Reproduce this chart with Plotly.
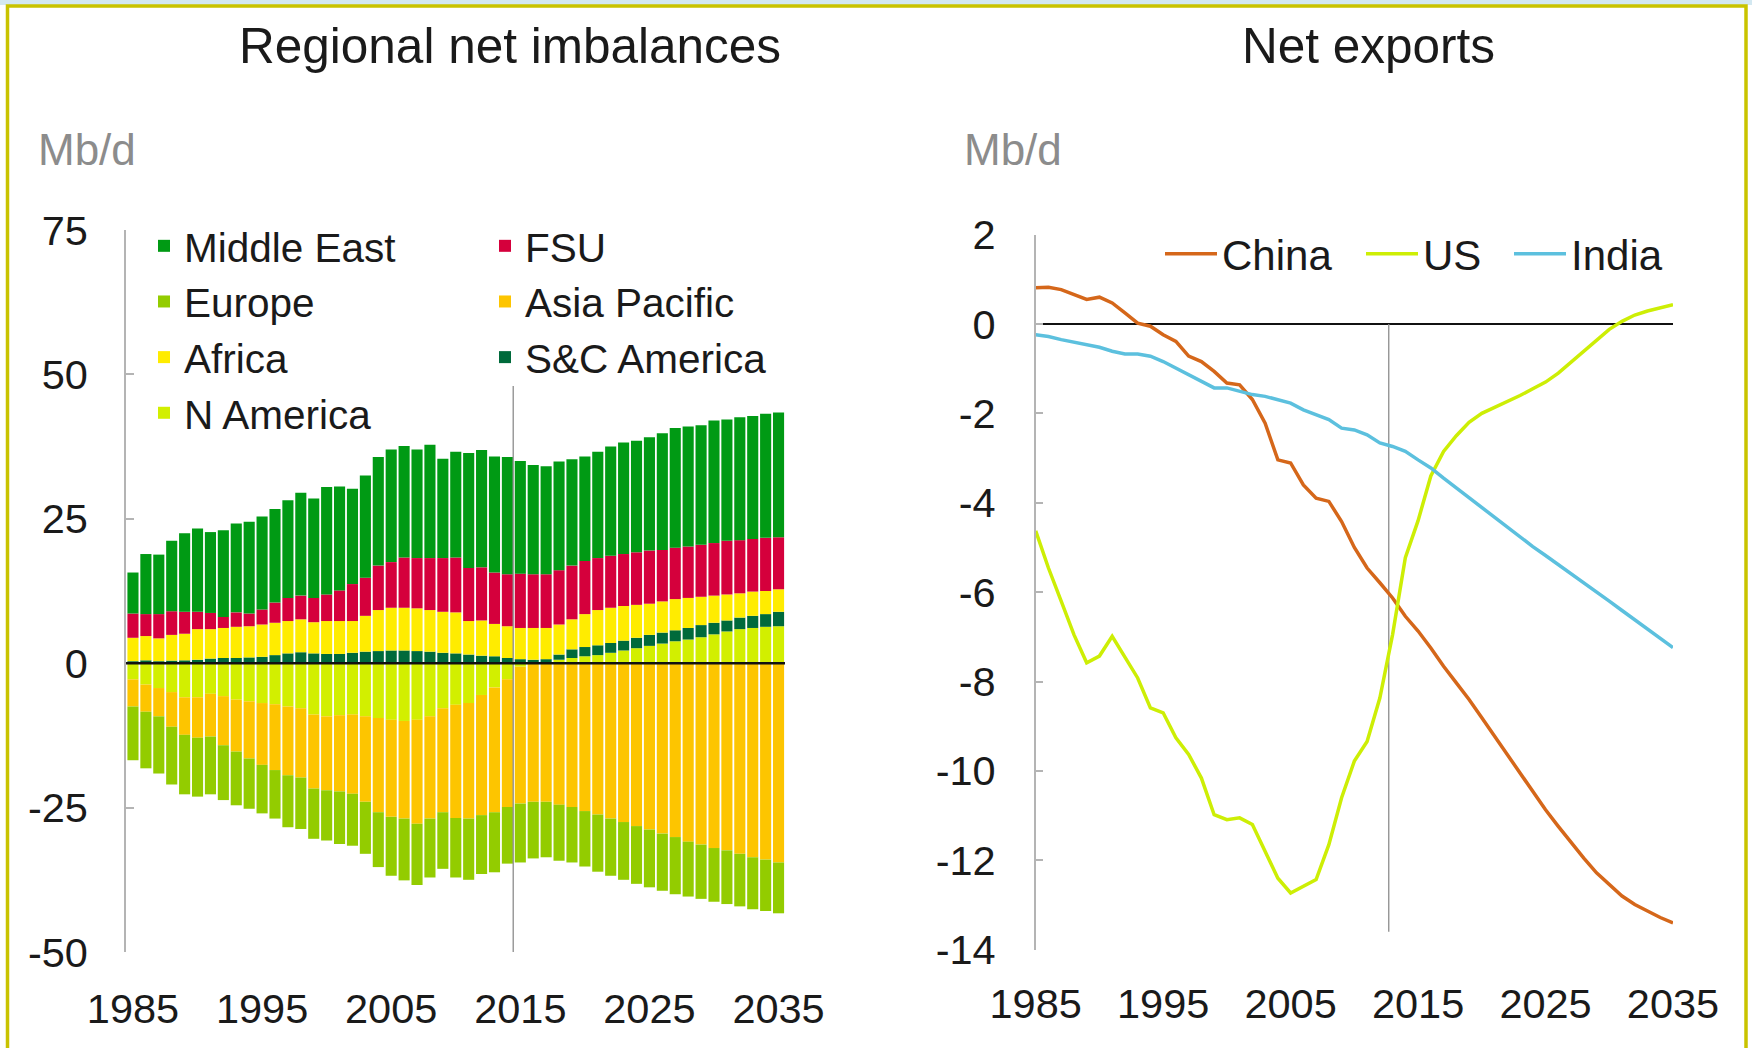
import plotly.graph_objects as go

# ---------------- Data ----------------
years = list(range(1985, 2036))

middle_east = [7.1, 10.4, 10.3, 12.2, 13.6, 14.4, 14.0, 15.0, 15.4, 15.9,
               16.1, 16.2, 16.9, 17.8, 17.2, 18.6, 18.0, 16.5, 17.7, 18.8,
               19.5, 19.3, 18.8, 19.6, 17.2, 18.3, 19.9, 20.3, 20.1, 20.3,
               19.5, 18.9, 18.7, 18.8, 18.4, 18.1, 18.4, 18.9, 19.3, 19.3,
               19.6, 20.2, 20.7, 20.8, 20.7, 21.2, 21.0, 21.3, 21.3, 21.5, 21.6]
fsu = [4.2, 3.8, 4.2, 4.1, 3.8, 3.0, 2.8, 1.9, 2.5, 2.2,
       2.6, 3.5, 4.0, 4.1, 4.2, 4.6, 5.3, 6.4, 6.6, 7.7,
       7.9, 8.7, 8.7, 9.0, 9.3, 9.5, 9.2, 9.2, 8.9, 9.0,
       9.4, 9.3, 9.3, 9.4, 9.3, 9.2, 9.0, 9.0, 9.0, 9.1,
       9.2, 8.9, 8.9, 8.9, 9.0, 9.1, 9.3, 9.2, 9.1, 9.2, 9.0]
africa = [4.05, 4.2, 3.95, 4.45, 4.6, 5.3, 5.1, 5.2, 5.4, 5.4,
          5.6, 5.6, 5.6, 5.7, 5.4, 5.7, 5.7, 5.5, 6.2, 7.1,
          7.4, 7.4, 7.4, 7.2, 7.1, 7.1, 5.8, 6.1, 5.6, 5.5,
          5.4, 5.5, 5.4, 5.2, 5.2, 5.7, 6.1, 6.1, 6.0, 5.7,
          5.4, 5.4, 5.4, 5.2, 4.9, 4.7, 4.5, 4.2, 4.2, 4.0, 3.9]
sc_america = [0.35, 0.5, 0.35, 0.45, 0.5, 0.6, 0.8, 0.9, 0.9, 1.0,
              1.1, 1.4, 1.7, 1.9, 1.7, 1.6, 1.6, 1.8, 2.0, 2.1,
              2.2, 2.2, 2.1, 2.0, 1.8, 1.7, 1.5, 1.3, 1.2, 0.9,
              0.7, 0.6, 0.5, 0.9, 1.5, 1.6, 1.7, 1.7, 1.7, 1.8,
              1.9, 1.9, 1.9, 2.0, 2.1, 2.0, 1.9, 2.0, 2.1, 2.2, 2.5]
n_america = [-2.8, -3.7, -4.3, -5.0, -5.9, -5.9, -5.3, -5.7, -6.3, -6.6,
             -6.9, -7.1, -7.5, -7.8, -8.9, -9.2, -9.0, -8.9, -9.2, -9.5,
             -9.8, -10.0, -9.8, -9.2, -7.8, -7.2, -6.9, -5.5, -4.2, -2.8,
             -0.6, -0.1, 0.2, 0.6, 0.9, 1.2, 1.4, 1.8, 2.2, 2.6,
             3.0, 3.4, 3.8, 4.1, 4.5, 5.0, 5.5, 5.9, 6.1, 6.3, 6.4]
asia_pacific = [-4.7, -4.7, -4.9, -6.0, -6.5, -7.0, -7.4, -8.5, -9.0, -9.9,
                -10.7, -11.4, -11.9, -12.0, -12.8, -12.8, -13.2, -13.7, -14.8, -16.3,
                -16.8, -16.9, -18.0, -17.7, -18.0, -19.6, -20.0, -20.8, -21.6, -22.1,
                -23.7, -23.9, -24.0, -24.5, -24.9, -25.6, -26.2, -26.9, -27.5, -28.2,
                -28.8, -29.5, -30.1, -30.9, -31.4, -32.0, -32.4, -33.0, -33.6, -34.0, -34.5]
europe = [-9.3, -9.8, -9.9, -10.0, -10.3, -10.2, -10.0, -9.5, -9.3, -8.7,
          -8.4, -8.4, -9.0, -8.9, -8.7, -8.7, -9.1, -9.0, -9.0, -9.5,
          -10.2, -10.7, -10.6, -10.2, -9.8, -10.3, -10.6, -10.2, -10.4, -9.8,
          -10.2, -9.8, -9.6, -9.7, -9.6, -9.6, -9.9, -9.9, -10.0, -10.0,
          -10.0, -9.9, -9.9, -9.5, -9.4, -9.3, -9.3, -9.1, -9.0, -8.9, -8.8]

china = [0.81, 0.82, 0.77, 0.66, 0.55, 0.6, 0.47, 0.25, 0.02, -0.05,
         -0.24, -0.39, -0.72, -0.84, -1.06, -1.32, -1.36, -1.69, -2.22, -3.04,
         -3.11, -3.6, -3.9, -3.97, -4.42, -5.0, -5.46, -5.79, -6.13, -6.54,
         -6.87, -7.25, -7.66, -8.03, -8.4, -8.81, -9.22, -9.63, -10.04, -10.46,
         -10.87, -11.24, -11.61, -11.95, -12.28, -12.54, -12.8, -12.99, -13.14, -13.28, -13.4]
us = [-4.63, -5.46, -6.2, -6.95, -7.58, -7.43, -6.99, -7.47, -7.92, -8.59,
      -8.7, -9.26, -9.63, -10.16, -10.98, -11.09, -11.05, -11.2, -11.8, -12.4,
      -12.73, -12.58, -12.43, -11.65, -10.6, -9.78, -9.34, -8.37, -6.95, -5.23,
      -4.4, -3.4, -2.85, -2.5, -2.2, -2.0, -1.87, -1.75, -1.6, -1.45,
      -1.3, -1.1, -0.85, -0.6, -0.36, -0.12, 0.06, 0.2, 0.29, 0.36, 0.43]
india = [-0.24, -0.28, -0.35, -0.4, -0.46, -0.52, -0.61, -0.67, -0.67, -0.72,
         -0.84, -0.99, -1.13, -1.28, -1.43, -1.43, -1.51, -1.58, -1.62, -1.69,
         -1.77, -1.92, -2.03, -2.14, -2.33, -2.37, -2.48, -2.66, -2.74, -2.85,
         -3.04, -3.22, -3.45, -3.67, -3.9, -4.12, -4.34, -4.56, -4.77, -4.98,
         -5.18, -5.38, -5.6, -5.8, -6.0, -6.2, -6.41, -6.62, -6.83, -7.03, -7.24]

left_yticks = [75, 50, 25, 0, -25, -50]
left_yticktext = ["75", "50", "25", "0", "-25", "-50"]
right_yticks = [2, 0, -2, -4, -6, -8, -10, -12, -14]
right_yticktext = ["2", "0", "-2", "-4", "-6", "-8", "-10", "-12", "-14"]
xticks = [1985, 1995, 2005, 2015, 2025, 2035]
xticktext = ["1985", "1995", "2005", "2015", "2025", "2035"]

# ---------------- Style ----------------
W, H = 1752, 1048
FONT = "Liberation Sans, Arial, Helvetica, sans-serif"
TXT = "#1a1a1a"
AXIS = "#b4b4b4"

def px(x):
    return x / W

def py(y):
    return 1 - y / H

fig = go.Figure()

# stacking order (from zero outward): N America, S&C America, Africa, FSU, Middle East, Asia Pacific, Europe
bar_series = [
    ("N America", n_america, "#d2ef00", "legend", 4),
    ("S&C America", sc_america, "#006a3b", "legend2", 3),
    ("Africa", africa, "#ffec00", "legend", 3),
    ("FSU", fsu, "#d5003c", "legend2", 1),
    ("Middle East", middle_east, "#009a14", "legend", 1),
    ("Asia Pacific", asia_pacific, "#fdc500", "legend2", 2),
    ("Europe", europe, "#93cc00", "legend", 2),
]
for name, vals, col, leg, rank in bar_series:
    fig.add_trace(go.Bar(x=years, y=vals, name=name, marker=dict(color=col, line=dict(width=0)),
                         legend=leg, legendrank=rank, xaxis="x", yaxis="y"))

line_series = [
    ("China", china, "#d5671a", "legend3"),
    ("US", us, "#cdee05", "legend4"),
    ("India", india, "#5cc0de", "legend5"),
]
for name, vals, col, leg in line_series:
    fig.add_trace(go.Scatter(x=years, y=vals, name=name, mode="lines",
                             line=dict(color=col, width=3.5), legend=leg,
                             xaxis="x2", yaxis="y2"))

tickfont = dict(family=FONT, size=41.5, color=TXT)
legfont = dict(family=FONT, size=40.5, color=TXT)
linelegfont = dict(family=FONT, size=42, color=TXT)

def line_legend(x_left):
    return dict(x=px(x_left), y=py(254), xanchor="left", yanchor="middle", font=linelegfont,
                orientation="h", bgcolor="rgba(0,0,0,0)", itemwidth=52)

fig.update_layout(
    width=W, height=H,
    margin=dict(l=0, r=0, t=0, b=0, autoexpand=False),
    paper_bgcolor="white", plot_bgcolor="white",
    barmode="relative", bargap=0.14,
    showlegend=True,
    xaxis=dict(domain=[px(126), px(785)], range=[1984.46, 2035.5],
               tickvals=xticks, ticktext=xticktext, tickfont=tickfont,
               showgrid=False, zeroline=False, showline=False, ticks="",
               ticklabelstandoff=28, automargin=False),
    yaxis=dict(domain=[py(952), py(230)], range=[-50, 75],
               tickvals=left_yticks, ticktext=left_yticktext, tickfont=tickfont,
               showgrid=False, zeroline=False, showline=True, linecolor=AXIS, linewidth=1.5,
               ticks="inside", ticklen=8, tickcolor=AXIS, tickwidth=1.5,
               ticklabelstandoff=28, automargin=False),
    xaxis2=dict(domain=[px(1035.7), px(1673)], range=[1985, 2035], anchor="y2",
                tickvals=xticks, ticktext=xticktext, tickfont=tickfont,
                showgrid=False, zeroline=False, showline=False, ticks="",
                ticklabelstandoff=26, automargin=False),
    yaxis2=dict(domain=[py(949.7), py(234.6)], range=[-14, 2], anchor="x2",
                tickvals=right_yticks, ticktext=right_yticktext, tickfont=tickfont,
                showgrid=False, zeroline=False, showline=True, linecolor=AXIS, linewidth=1.5,
                ticks="inside", ticklen=8, tickcolor=AXIS, tickwidth=1.5,
                ticklabelstandoff=30, automargin=False),
    legend=dict(x=px(144), y=py(213), xanchor="left", yanchor="top", font=legfont,
                traceorder="normal", bgcolor="rgba(0,0,0,0)", tracegroupgap=0),
    legend2=dict(x=px(485), y=py(213), xanchor="left", yanchor="top", font=legfont,
                 traceorder="normal", bgcolor="rgba(0,0,0,0)", tracegroupgap=0),
    legend3=line_legend(1160),
    legend4=line_legend(1361),
    legend5=line_legend(1509),
)

shapes = [
    # frame
    dict(type="rect", xref="paper", yref="paper", x0=0, x1=1, y0=py(5), y1=1,
         fillcolor="#d3e8f1", line=dict(width=0), layer="below"),
    dict(type="rect", xref="paper", yref="paper", x0=px(7.5), x1=px(1746), y0=py(1060), y1=py(6),
         line=dict(color="#c9c300", width=3.5), fillcolor="rgba(0,0,0,0)", layer="above"),
    # left chart
    dict(type="line", xref="x", yref="y", x0=2014.45, x1=2014.45, y0=-50.5, y1=48,
         line=dict(color="#8c8c8c", width=1.3), layer="above"),
    dict(type="line", xref="x", yref="y", x0=1984.46, x1=2035.5, y0=0, y1=0,
         line=dict(color="#111111", width=2.5), layer="above"),
    # right chart
    dict(type="line", xref="x2", yref="y2", x0=1985, x1=2035, y0=0, y1=0,
         line=dict(color="#111111", width=2), layer="below"),
    dict(type="line", xref="x2", yref="y2", x0=2012.7, x1=2012.7, y0=0, y1=-13.6,
         line=dict(color="#8c8c8c", width=1.3), layer="below"),
]
fig.update_layout(shapes=shapes)

annotations = [
    dict(text="Regional net imbalances", x=px(509.5), y=py(46), xref="paper", yref="paper",
         showarrow=False, xanchor="center", yanchor="middle",
         font=dict(family=FONT, size=49.5, color=TXT)),
    dict(text="Net exports", x=px(1368.7), y=py(46), xref="paper", yref="paper",
         showarrow=False, xanchor="center", yanchor="middle",
         font=dict(family=FONT, size=49.5, color=TXT)),
    dict(text="Mb/d", x=px(36), y=py(149), xref="paper", yref="paper",
         showarrow=False, xanchor="left", yanchor="middle",
         font=dict(family=FONT, size=44, color="#8c8c8c")),
    dict(text="Mb/d", x=px(962), y=py(149), xref="paper", yref="paper",
         showarrow=False, xanchor="left", yanchor="middle",
         font=dict(family=FONT, size=44, color="#8c8c8c")),
]
fig.update_layout(annotations=annotations)

fig.write_html(
    "out.html",
    config={"displayModeBar": False},
    post_script="document.body.style.margin='0';document.body.style.overflow='hidden';",
)
